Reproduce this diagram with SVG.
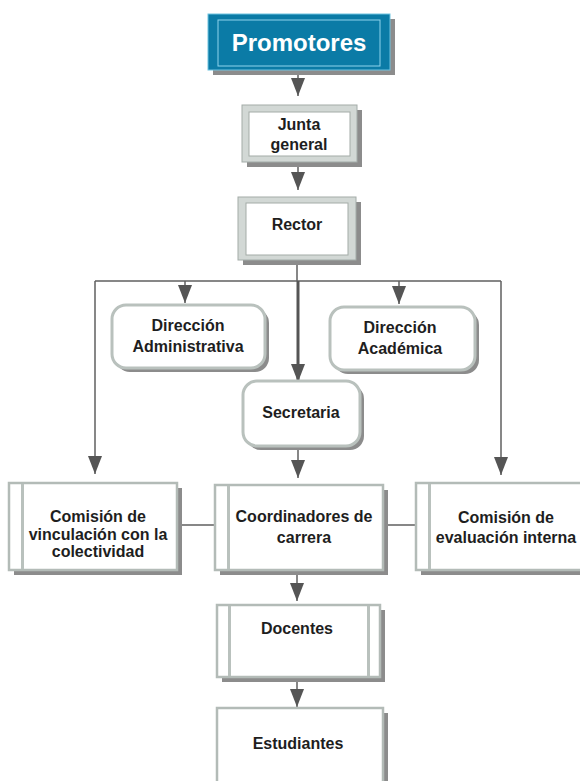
<svg xmlns="http://www.w3.org/2000/svg" width="580" height="781" viewBox="0 0 580 781">
  <style>
    .bg { fill: #ffffff; }
    .shadow { fill: #8c8c8c; }
    .band { fill: #d2d8d5; stroke: #a3aca8; stroke-width: 1; }
    .inner { fill: #ffffff; stroke: #a3aba7; stroke-width: 1; }
    .round { fill: #ffffff; stroke: #b9c1bd; stroke-width: 3; }
    .plain { fill: #ffffff; stroke: #b3bbb7; stroke-width: 2.5; }
    .stripe { fill: #b9c1bd; }
    .label { font-family: "Liberation Sans", Arial, Helvetica, sans-serif; font-weight: bold; font-size: 16px; fill: #1e1e1e; text-anchor: middle; }
    .title { font-family: "Liberation Sans", Arial, Helvetica, sans-serif; font-weight: bold; font-size: 24px; fill: #ffffff; text-anchor: middle; }
    .wire { stroke: #5f5f5f; stroke-width: 1.5; fill: none; }
    .wire-bold { stroke: #555555; stroke-width: 3; fill: none; }
  </style>
  <defs>
    <marker id="arrow" viewBox="0 0 18 14" refX="18" refY="7" markerWidth="18" markerHeight="14" orient="auto" markerUnits="userSpaceOnUse">
      <path d="M0,0 L18,7 L0,14 Z" fill="#555555"/>
    </marker>
  </defs>

  <rect class="bg" x="0" y="0" width="580" height="781"/>

  <!-- connectors -->
  <g id="connectors">
    <line class="wire" x1="298" y1="75" x2="298" y2="96" marker-end="url(#arrow)"/>
    <line class="wire" x1="298" y1="167" x2="298" y2="190" marker-end="url(#arrow)"/>
    <line class="wire" x1="297" y1="265" x2="297" y2="281"/>
    <line class="wire" x1="95" y1="281" x2="501" y2="281"/>
    <line class="wire" x1="95" y1="281" x2="95" y2="474" marker-end="url(#arrow)"/>
    <line class="wire" x1="185" y1="281" x2="185" y2="303" marker-end="url(#arrow)"/>
    <line class="wire" x1="399" y1="281" x2="399" y2="304" marker-end="url(#arrow)"/>
    <line class="wire-bold" x1="298" y1="281" x2="298" y2="382" marker-end="url(#arrow)"/>
    <line class="wire" x1="501" y1="281" x2="501" y2="475" marker-end="url(#arrow)"/>
    <line class="wire" x1="298" y1="450" x2="298" y2="478" marker-end="url(#arrow)"/>
    <line class="wire" x1="297" y1="575" x2="297" y2="601" marker-end="url(#arrow)"/>
    <line class="wire" x1="297" y1="682" x2="297" y2="707" marker-end="url(#arrow)"/>
    <line class="wire" x1="182" y1="525" x2="215" y2="525"/>
    <line class="wire" x1="388" y1="525" x2="416" y2="525"/>
  </g>

  <!-- Promotores -->
  <g id="promotores">
    <rect class="shadow" x="213" y="19" width="182" height="56"/>
    <rect x="208" y="14" width="182" height="56" fill="#0b7ba6" stroke="#6fc3e0" stroke-width="1"/>
    <rect x="218" y="20" width="162" height="46" fill="none" stroke="#8fd4ec" stroke-width="1"/>
    <text class="title" x="299" y="51">Promotores</text>
  </g>

  <!-- Junta general -->
  <g id="junta">
    <rect class="shadow" x="247" y="110" width="115" height="57"/>
    <rect class="band" x="242" y="105" width="115" height="57"/>
    <rect class="inner" x="249" y="112" width="101" height="44"/>
    <text class="label" x="299" y="130">Junta</text>
    <text class="label" x="299" y="150">general</text>
  </g>

  <!-- Rector -->
  <g id="rector">
    <rect class="shadow" x="243" y="202" width="118" height="63"/>
    <rect class="band" x="238" y="197" width="118" height="63"/>
    <rect class="inner" x="246" y="203" width="102" height="52"/>
    <text class="label" x="297" y="230">Rector</text>
  </g>

  <!-- Dirección Administrativa -->
  <g id="dir-administrativa">
    <rect class="shadow" x="116" y="309" width="153" height="63" rx="14"/>
    <rect class="round" x="112" y="305" width="153" height="63" rx="14"/>
    <text class="label" x="188" y="331">Dirección</text>
    <text class="label" x="188" y="352">Administrativa</text>
  </g>

  <!-- Dirección Académica -->
  <g id="dir-academica">
    <rect class="shadow" x="334" y="311" width="145" height="63" rx="14"/>
    <rect class="round" x="330" y="307" width="145" height="63" rx="14"/>
    <text class="label" x="400" y="333">Dirección</text>
    <text class="label" x="400" y="354">Académica</text>
  </g>

  <!-- Secretaria -->
  <g id="secretaria">
    <rect class="shadow" x="247" y="385" width="117" height="65" rx="14"/>
    <rect class="round" x="243" y="381" width="117" height="65" rx="14"/>
    <text class="label" x="301" y="418">Secretaria</text>
  </g>

  <!-- Comisión de vinculación con la colectividad -->
  <g id="comision-vinculacion">
    <rect class="shadow" x="14" y="488" width="168" height="87"/>
    <rect class="plain" x="9" y="483" width="168" height="87"/>
    <rect class="stripe" x="21" y="484" width="3" height="85"/>
    <text class="label" x="98" y="522">Comisión de</text>
    <text class="label" x="98" y="540">vinculación con la</text>
    <text class="label" x="98" y="557">colectividad</text>
  </g>

  <!-- Coordinadores de carrera -->
  <g id="coordinadores">
    <rect class="shadow" x="220" y="490" width="168" height="85"/>
    <rect class="plain" x="215" y="485" width="168" height="85"/>
    <rect class="stripe" x="227" y="486" width="3" height="83"/>
    <text class="label" x="304" y="522">Coordinadores de</text>
    <text class="label" x="304" y="543">carrera</text>
  </g>

  <!-- Comisión de evaluación interna -->
  <g id="comision-evaluacion">
    <rect class="shadow" x="421" y="488" width="170" height="87"/>
    <rect class="plain" x="416" y="483" width="170" height="87"/>
    <rect class="stripe" x="428" y="484" width="3" height="85"/>
    <text class="label" x="506" y="523">Comisión de</text>
    <text class="label" x="506" y="543">evaluación interna</text>
  </g>

  <!-- Docentes -->
  <g id="docentes">
    <rect class="shadow" x="222" y="610" width="163" height="72"/>
    <rect class="plain" x="217" y="605" width="163" height="72"/>
    <rect class="stripe" x="228" y="606" width="3" height="70"/>
    <rect class="stripe" x="367" y="606" width="3" height="70"/>
    <text class="label" x="297" y="634">Docentes</text>
  </g>

  <!-- Estudiantes -->
  <g id="estudiantes">
    <rect class="shadow" x="222" y="713" width="166" height="80"/>
    <rect class="plain" x="217" y="708" width="166" height="80"/>
    <text class="label" x="298" y="749">Estudiantes</text>
  </g>
</svg>
